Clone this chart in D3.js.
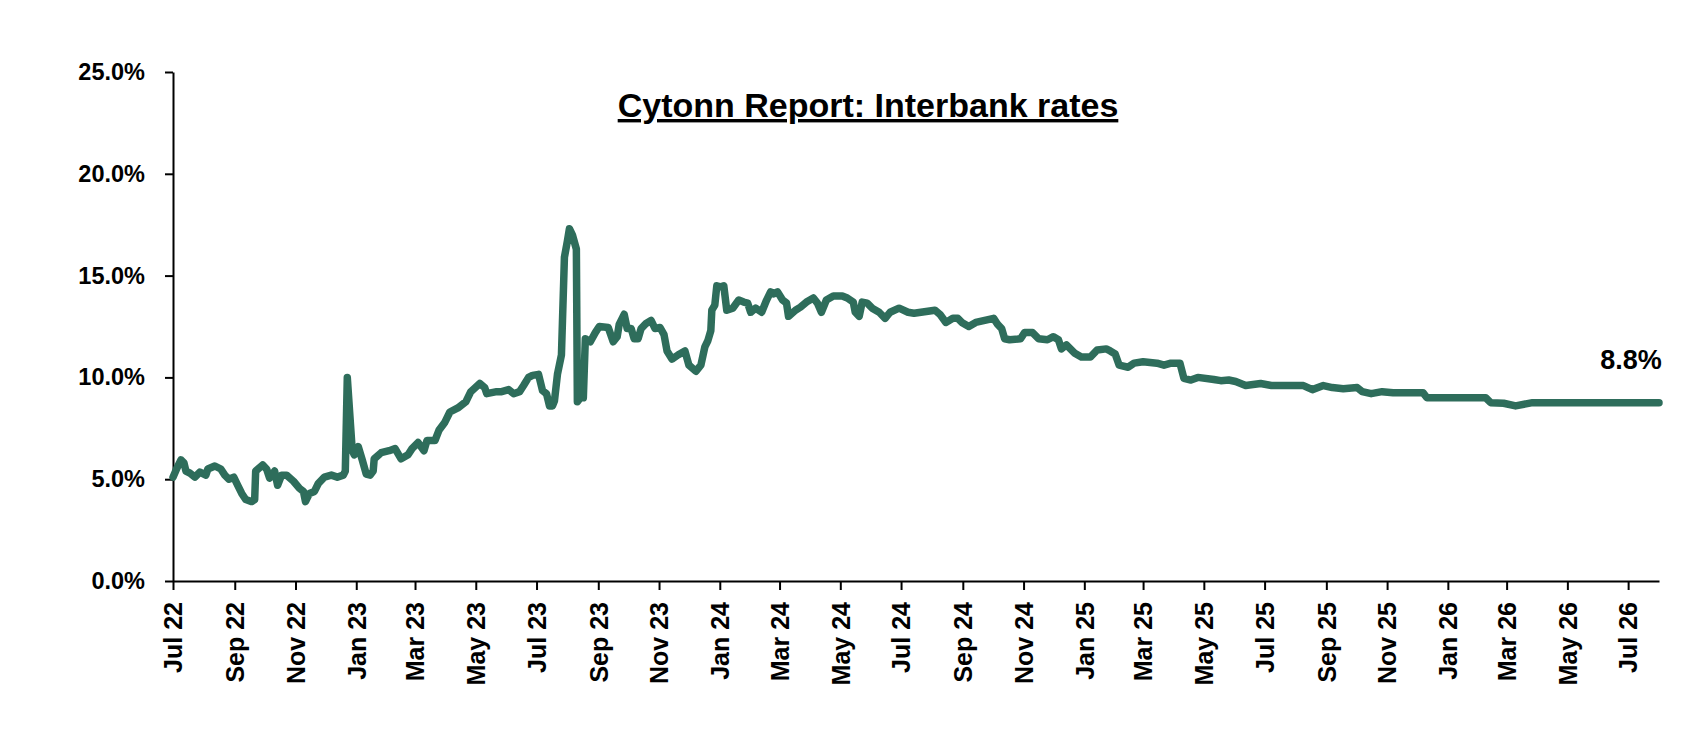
<!DOCTYPE html>
<html>
<head>
<meta charset="utf-8">
<script src="https://cdn.jsdelivr.net/npm/d3@7"></script>
<style>
  body { margin: 0; background: #fff; }
  text { font-family: "Liberation Sans", Arial, sans-serif; font-weight: bold; fill: #000; }
</style>
</head>
<body>
<script>
// interbank rate readings (date, %)
const dates = [
  "2022-07-01","2022-07-05","2022-07-09","2022-07-12","2022-07-14","2022-07-18","2022-07-23","2022-07-28",
  "2022-08-03","2022-08-05","2022-08-12","2022-08-18","2022-08-22","2022-08-26","2022-08-31",
  "2022-09-04","2022-09-08","2022-09-12","2022-09-18","2022-09-21","2022-09-22","2022-09-29",
  "2022-10-03","2022-10-06","2022-10-11","2022-10-14","2022-10-18","2022-10-23","2022-10-30",
  "2022-11-05","2022-11-09","2022-11-11","2022-11-15","2022-11-20","2022-11-24","2022-11-30",
  "2022-12-07","2022-12-13","2022-12-19","2022-12-21","2022-12-23","2022-12-28","2022-12-30",
  "2023-01-03","2023-01-07","2023-01-11","2023-01-15","2023-01-18","2023-01-19","2023-01-26",
  "2023-02-03","2023-02-09","2023-02-15","2023-02-22","2023-02-26",
  "2023-03-04","2023-03-10","2023-03-13","2023-03-21","2023-03-25","2023-03-31",
  "2023-04-05","2023-04-13","2023-04-21","2023-04-26",
  "2023-05-05","2023-05-10","2023-05-12","2023-05-22","2023-05-27",
  "2023-06-03","2023-06-08","2023-06-14","2023-06-18","2023-06-23","2023-06-27",
  "2023-07-03","2023-07-07","2023-07-11","2023-07-14","2023-07-17","2023-07-19","2023-07-22","2023-07-26","2023-07-29",
  "2023-08-01","2023-08-03","2023-08-06","2023-08-10","2023-08-11","2023-08-14","2023-08-17","2023-08-19","2023-08-24","2023-08-29",
  "2023-09-02","2023-09-11","2023-09-16","2023-09-20","2023-09-22","2023-09-27","2023-09-30",
  "2023-10-04","2023-10-07","2023-10-11","2023-10-14","2023-10-19","2023-10-24","2023-10-28",
  "2023-11-02","2023-11-06","2023-11-09","2023-11-14","2023-11-20","2023-11-27",
  "2023-12-01","2023-12-08","2023-12-13","2023-12-17","2023-12-20","2023-12-23","2023-12-24","2023-12-27","2023-12-29",
  "2024-01-02","2024-01-05","2024-01-08","2024-01-14","2024-01-20","2024-01-25","2024-01-29",
  "2024-02-01","2024-02-06","2024-02-12","2024-02-17","2024-02-21","2024-02-24","2024-02-28",
  "2024-03-04","2024-03-08","2024-03-10","2024-03-17","2024-03-22","2024-03-28",
  "2024-04-04","2024-04-08","2024-04-12","2024-04-17","2024-04-24",
  "2024-05-03","2024-05-08","2024-05-14","2024-05-16","2024-05-20","2024-05-23","2024-05-28",
  "2024-06-02","2024-06-09","2024-06-15","2024-06-20","2024-06-29",
  "2024-07-08","2024-07-14","2024-07-21",
  "2024-08-04","2024-08-09","2024-08-15","2024-08-22","2024-08-27","2024-08-31",
  "2024-09-07","2024-09-14","2024-09-23",
  "2024-10-02","2024-10-06","2024-10-10","2024-10-13","2024-10-18","2024-10-29",
  "2024-11-02","2024-11-10","2024-11-16","2024-11-25",
  "2024-12-01","2024-12-06","2024-12-09","2024-12-14","2024-12-22","2024-12-29",
  "2025-01-07","2025-01-14","2025-01-23","2025-01-27",
  "2025-02-01","2025-02-05","2025-02-14","2025-02-20",
  "2025-03-01","2025-03-15","2025-03-22","2025-03-29",
  "2025-04-07","2025-04-11","2025-04-18","2025-04-25",
  "2025-05-11","2025-05-18","2025-05-26",
  "2025-06-02","2025-06-12","2025-06-27",
  "2025-07-08","2025-08-09","2025-08-18","2025-08-29",
  "2025-09-07","2025-09-18","2025-10-02","2025-10-07","2025-10-16","2025-10-27",
  "2025-11-07","2025-12-07","2025-12-11",
  "2026-02-08","2026-02-13","2026-02-26","2026-03-10","2026-03-27","2026-08-01"
];

const rates = [
  5.1,5.55,5.95,5.8,5.4,5.3,5.1,5.35,
  5.2,5.5,5.65,5.5,5.2,5.0,5.1,
  4.7,4.3,4.0,3.9,4.0,5.4,5.7,
  5.5,5.05,5.4,4.7,5.2,5.2,4.9,
  4.55,4.4,3.9,4.3,4.4,4.8,5.1,
  5.2,5.1,5.2,5.4,10.0,6.4,6.2,
  6.6,5.95,5.25,5.2,5.4,6.0,6.3,
  6.4,6.5,6.0,6.2,6.5,
  6.8,6.4,6.9,6.9,7.4,7.8,
  8.3,8.5,8.8,9.3,
  9.7,9.5,9.2,9.3,9.3,
  9.4,9.2,9.3,9.6,10.0,10.1,
  10.15,9.35,9.2,8.6,8.6,8.85,10.15,11.1,15.9,
  16.7,17.3,17.0,16.3,8.8,9.0,9.0,11.9,11.75,12.2,
  12.5,12.45,11.75,12.0,12.6,13.1,12.4,
  12.4,11.9,11.9,12.4,12.65,12.8,12.4,
  12.45,12.1,11.3,10.9,11.1,11.3,
  10.6,10.3,10.6,11.5,11.8,12.3,13.3,13.55,14.5,
  14.45,14.5,13.3,13.4,13.8,13.7,13.65,
  13.2,13.4,13.2,13.8,14.2,14.1,14.2,
  13.8,13.65,13.0,13.3,13.45,13.7,
  13.9,13.65,13.2,13.8,14.0,
  14.0,13.9,13.7,13.2,13.0,13.7,13.65,
  13.4,13.2,12.9,13.2,13.4,
  13.2,13.15,13.2,
  13.3,13.1,12.7,12.9,12.9,12.7,
  12.5,12.7,12.8,
  12.9,12.6,12.4,11.9,11.85,11.9,
  12.2,12.2,11.9,11.85,
  12.0,11.85,11.4,11.6,11.2,11.0,
  11.0,11.35,11.4,11.3,
  11.15,10.6,10.5,10.7,
  10.77,10.7,10.6,10.7,
  10.7,9.95,9.87,10.0,
  9.9,9.84,9.87,
  9.8,9.6,9.7,
  9.6,9.6,9.4,9.6,
  9.5,9.44,9.5,9.3,9.2,9.3,
  9.25,9.25,9.0,
  9.0,8.76,8.73,8.6,8.76,8.76
];

const yTicks = [0, 5, 10, 15, 20, 25];
const xStart = "2022-07-01";
const xEnd = "2026-08-01";
const titleText = "Cytonn Report: Interbank rates";

const width = 1684;
const height = 754;
const margin = { top: 72, right: 25, bottom: 173, left: 173 };

const parse = d3.timeParse("%Y-%m-%d");
const data = dates.map((d, i) => ({ date: parse(d), value: rates[i] }));

const x = d3.scaleTime()
  .domain([parse(xStart), parse(xEnd)])
  .range([margin.left, width - margin.right]);

const y = d3.scaleLinear()
  .domain([0, 25])
  .range([height - margin.bottom, margin.top]);

const svg = d3.select("body")
  .append("svg")
  .attr("width", width)
  .attr("height", height);

// y axis
const yAxis = svg.append("g")
  .attr("transform", `translate(${margin.left},0)`)
  .call(d3.axisLeft(y)
    .tickValues(yTicks)
    .tickFormat(d => d.toFixed(1) + "%")
    .tickSize(8)
    .tickSizeOuter(0)
    .tickPadding(20));
yAxis.selectAll("text").style("font-size", "23.5px");
yAxis.selectAll("path, line").attr("stroke", "#000").attr("stroke-width", 2);

// x axis
const xAxis = svg.append("g")
  .attr("transform", `translate(0,${height - margin.bottom})`)
  .call(d3.axisBottom(x)
    .ticks(d3.timeMonth.every(2))
    .tickFormat(d3.timeFormat("%b %y"))
    .tickSize(9)
    .tickSizeOuter(0));
xAxis.selectAll("path, line").attr("stroke", "#000").attr("stroke-width", 2);
xAxis.selectAll("text")
  .style("font-size", "25px")
  .attr("text-anchor", "end")
  .attr("transform", "rotate(-90)")
  .attr("x", -21)
  .attr("y", 0)
  .attr("dy", "0.35em");

// the line
const line = d3.line()
  .x(d => x(d.date))
  .y(d => y(d.value));

svg.append("path")
  .datum(data)
  .attr("fill", "none")
  .attr("stroke", "#2E6D5B")
  .attr("stroke-width", 7.5)
  .attr("stroke-linejoin", "round")
  .attr("stroke-linecap", "round")
  .attr("d", line);

// last value label
const last = data[data.length - 1];
svg.append("text")
  .attr("x", x(last.date) - 28)
  .attr("y", y(last.value) - 34)
  .attr("text-anchor", "middle")
  .style("font-size", "27px")
  .text(last.value.toFixed(1) + "%");

// title
svg.append("text")
  .attr("x", 868)
  .attr("y", 117)
  .attr("text-anchor", "middle")
  .style("font-size", "34px")
  .style("text-decoration", "underline")
  .text(titleText);
</script>
</body>
</html>
